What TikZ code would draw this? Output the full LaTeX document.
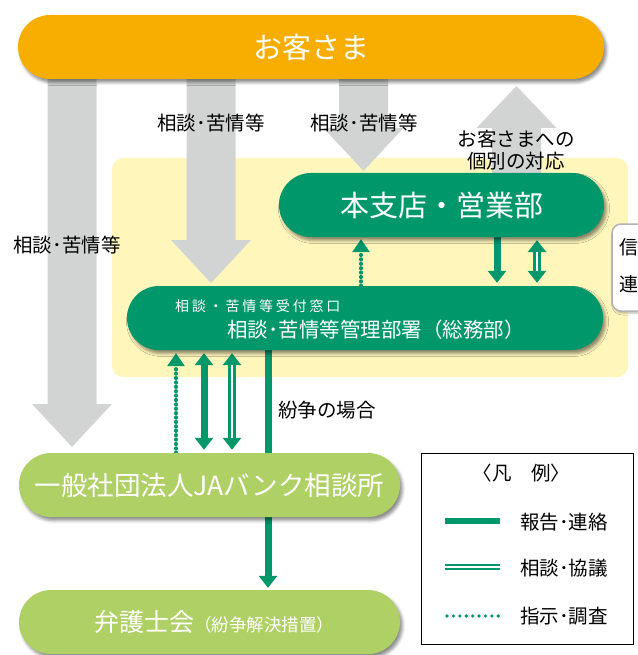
\documentclass[tikz,border=0pt]{standalone}
\usepackage{fontspec}
\setmainfont{Noto Sans CJK JP}
\usetikzlibrary{arrows.meta,shadows.blur,calc}
\definecolor{cOrange}{HTML}{F7AE00}
\definecolor{cGreen}{HTML}{00976B}
\definecolor{cLGreen}{HTML}{AFD065}
\definecolor{cGray}{HTML}{D2D4D4}
\definecolor{cYellow}{HTML}{FFF6BC}
\pgfdeclarelayer{back}
\pgfdeclarelayer{mid}
\pgfsetlayers{back,mid,main}
\newcommand\blockarrow[4]{%
  \fill[cGray] ({#1-24.5},#2) -- ({#1+24.5},#2) -- ({#1+24.5},#3) -- ({#1+40},#3) -- (#1,#4) -- ({#1-40},#3) -- ({#1-24.5},#3) -- cycle;}
\newcommand\fs[1]{\fontsize{#1}{#1}\selectfont}
\begin{document}
\begin{tikzpicture}[x=1pt,y=-1pt,
  box/.style={rounded corners=32pt, minimum height=64pt, inner sep=0pt, text=white,
    blur shadow={shadow xshift=2.5pt,shadow yshift=-3.5pt,shadow blur radius=3pt,shadow opacity=45}},
  lbl/.style={inner sep=0pt, text=black, font=\fs{19.5}},
  solidln/.style={draw=cGreen, line width=7pt},
  dblbase/.style={draw=cGreen, line width=7.5pt},
  dblgap/.style={draw=white, line width=2.5pt},
  dotln/.style={draw=cGreen, line width=4.2pt, line cap=round, dash pattern=on 0pt off 4.4pt},
]
\useasboundingbox (0,0) rectangle (637,655);

% boxes
\node[box, fill=cOrange, minimum width=586pt, font=\fs{29}] (kyaku) at (311,47) {お客さま};
\node[box, fill=cGreen, minimum width=325pt, font=\fs{29}] (honshi) at (441.5,205) {本支店・営業部};
\node[box, fill=cGreen, minimum width=476pt] (kanri) at (365,318) {};
\node[inner sep=0pt, text=white, anchor=west, font=\fs{14}\addfontfeature{LetterSpace=20}] (kmado) at (175,306) {相談・苦情等受付窓口};
\node[inner sep=0pt, text=white, font=\fs{20.5}] (kmain) at (376,330) {相談･苦情等管理部署（総務部）};
\node[box, fill=cLGreen, minimum width=381pt, font=\fs{26.5}] (ja) at (209.5,485) {一般社団法人JAバンク相談所};
\node[box, fill=cLGreen, minimum width=381pt] (bengo) at (209.5,622) {\hspace{9pt}{\fs{25}弁護士会}{\fs{17.5}（紛争解決措置）}};

% side box (cut off)
\node[draw=black!30, line width=1.5pt, fill=white, rounded corners=9pt, minimum width=44pt, minimum height=87pt,
  blur shadow={shadow xshift=1.5pt,shadow yshift=-2pt,shadow blur radius=2pt,shadow opacity=30}] (shin) at (634,267.5) {};
\node[lbl, font=\fs{19}] (shin1) at (629,247) {信};
\node[lbl, font=\fs{19}] (shin2) at (629,284) {連};

% labels
\node[lbl] (lab1) at (67,245) {相談･苦情等};
\node[lbl] (lab2) at (211,123) {相談･苦情等};
\node[lbl] (lab3) at (364,123) {相談･苦情等};
\node[lbl] (lab4) at (516,139) {お客さまへの};
\node[lbl] (lab5) at (516,161) {個別の対応};
\node[lbl, anchor=west] (lab6) at (278,410) {紛争の場合};

% legend
\node[draw=black, line width=0.8pt, minimum width=212pt, minimum height=191pt, inner sep=0pt] (legend) at (527,548.5) {};
\node[lbl] (legt) at (521.5,473) {〈凡　例〉};
\coordinate (l1a) at (445,521); \coordinate (l1b) at (500,521);
\coordinate (l2a) at (445,567); \coordinate (l2b) at (500,567);
\coordinate (l3a) at (447,616); \coordinate (l3b) at (500,616);
\draw[draw=cGreen, line width=6pt] (l1a) -- (l1b);
\draw[draw=cGreen, line width=6pt] (l2a) -- (l2b);
\draw[draw=white, line width=2pt] (l2a) -- (l2b);
\draw[draw=cGreen, line width=3.6pt, line cap=round, dash pattern=on 0pt off 6.4pt] (l3a) -- (l3b);
\node[lbl, anchor=west] (leg1) at (520,522) {報告･連絡};
\node[lbl, anchor=west] (leg2) at (520,568) {相談･協議};
\node[lbl, anchor=west] (leg3) at (520,616) {指示･調査};

% x positions for connectors
\coordinate (xa) at (361,0);
\coordinate (xb) at (497,0);
\coordinate (xc) at (537,0);
\coordinate (xd) at (176,0);
\coordinate (xe) at (204,0);
\coordinate (xf) at (232,0);
\coordinate (xg) at (268,0);

\begin{pgfonlayer}{back}
  \fill[cYellow, rounded corners=11pt] (112,158) rectangle (628,377);
\end{pgfonlayer}

\begin{pgfonlayer}{mid}
  % gray block arrows
  \blockarrow{72}{60}{404}{447}
  \blockarrow{211}{60}{240}{283}
  \blockarrow{363.5}{60}{128}{171}
  \blockarrow{516.5}{195}{128}{86}
  % green connectors upper
  \draw[dotln, -{Triangle[width=17pt,length=13pt]}, shorten >=2pt] (kanri.north -| xa) -- (honshi.south -| xa);
  \draw[solidln, -{Triangle[width=18pt,length=12pt]}, shorten >=3pt] (honshi.south -| xb) -- (kanri.north -| xb);
  \draw[dblbase, {Triangle[width=18pt,length=12pt]}-{Triangle[width=18pt,length=12pt]}, shorten <=3pt, shorten >=3pt] (honshi.south -| xc) -- (kanri.north -| xc);
  \draw[dblgap, shorten <=15pt, shorten >=15pt] (honshi.south -| xc) -- (kanri.north -| xc);
  % green connectors lower
  \draw[dotln, -{Triangle[width=17pt,length=13pt]}, shorten >=3pt] (ja.north -| xd) -- (kanri.south -| xd);
  \draw[solidln, {Triangle[width=18pt,length=12pt]}-{Triangle[width=18pt,length=12pt]}, shorten <=3pt, shorten >=3pt] (kanri.south -| xe) -- (ja.north -| xe);
  \draw[dblbase, {Triangle[width=18pt,length=12pt]}-{Triangle[width=18pt,length=12pt]}, shorten <=3pt, shorten >=3pt] (kanri.south -| xf) -- (ja.north -| xf);
  \draw[dblgap, shorten <=15pt, shorten >=15pt] (kanri.south -| xf) -- (ja.north -| xf);
  \draw[solidln, -{Triangle[width=18pt,length=12pt]}, shorten >=2pt] (kanri.south -| xg) -- (bengo.north -| xg);
\end{pgfonlayer}
\end{tikzpicture}
\end{document}
